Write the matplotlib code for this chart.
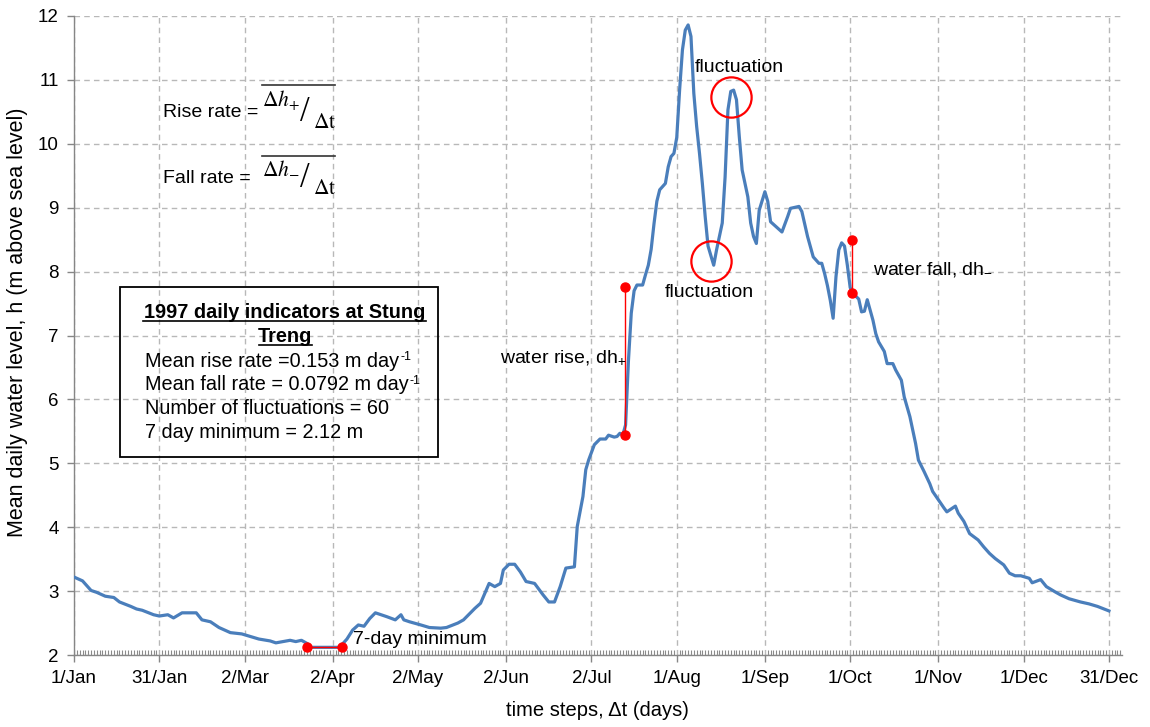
import matplotlib
matplotlib.use('Agg')
import matplotlib.pyplot as plt
from matplotlib.lines import Line2D
from matplotlib.patches import Rectangle

plt.rcParams['font.family'] = ['Liberation Sans', 'DejaVu Sans']

# ---------------- data (day of year, 0 = 1 Jan 1997) ----------------
day = [0, 3, 6, 8, 11, 14, 16, 20, 22, 24, 28, 30, 33, 35, 38, 43, 45, 48, 51, 55,
       59, 62, 65, 69, 71, 76, 78, 80, 82, 83, 93, 94, 96, 98, 100, 102, 104, 106,
       110, 113, 115, 116, 118, 122, 125, 129, 131, 135, 137, 139, 141, 143, 146,
       148, 150, 151, 153, 155, 157, 159, 162, 165, 167, 169, 171, 173, 176, 177,
       179, 180, 181, 183, 185, 187, 188, 190, 191, 192, 193, 194, 195, 196, 197,
       198, 200, 201, 202, 203, 204, 205, 206, 208, 209, 210, 211, 212, 213, 214,
       215, 216, 217, 218, 219, 220, 221, 222, 223, 225, 226, 228, 229, 230, 231,
       232, 233, 234, 235, 237, 238, 239, 240, 241, 243, 244, 245, 247, 249, 251,
       252, 255, 256, 258, 260, 262, 263, 264, 265, 266, 267, 268, 269, 270, 271,
       272, 273, 274, 276, 277, 278, 279, 281, 282, 283, 285, 286, 288, 289, 291,
       292, 294, 295, 296, 297, 299, 301, 302, 304, 306, 307, 308, 310, 311, 313,
       315, 318, 320, 322, 324, 327, 329, 331, 333, 336, 337, 340, 342, 345, 347,
       350, 354, 357, 360, 364]
level = [3.22, 3.16, 3.01, 2.98, 2.92, 2.90, 2.83, 2.76, 2.72, 2.70, 2.63, 2.61, 2.63,
         2.58, 2.66, 2.66, 2.55, 2.52, 2.43, 2.35, 2.33, 2.29, 2.25, 2.22, 2.19, 2.23,
         2.21, 2.23, 2.18, 2.12, 2.12, 2.15, 2.25, 2.39, 2.47, 2.45, 2.57, 2.66, 2.60,
         2.55, 2.63, 2.55, 2.52, 2.47, 2.43, 2.42, 2.43, 2.50, 2.55, 2.64, 2.73, 2.81,
         3.12, 3.07, 3.12, 3.33, 3.42, 3.42, 3.30, 3.15, 3.12, 2.94, 2.83, 2.83, 3.07,
         3.36, 3.38, 4.01, 4.48, 4.90, 5.05, 5.29, 5.38, 5.38, 5.44, 5.41, 5.42, 5.47,
         5.44, 5.60, 6.60, 7.35, 7.70, 7.79, 7.79, 7.95, 8.10, 8.35, 8.75, 9.10, 9.28,
         9.38, 9.64, 9.80, 9.85, 10.10, 10.84, 11.47, 11.78, 11.86, 11.68, 10.79, 10.27,
         9.85, 9.38, 8.86, 8.40, 8.10, 8.34, 8.76, 9.48, 10.53, 10.82, 10.84, 10.69,
         10.11, 9.59, 9.17, 8.76, 8.55, 8.44, 8.96, 9.25, 9.10, 8.78, 8.70, 8.62, 8.86,
         8.99, 9.02, 8.94, 8.55, 8.23, 8.13, 8.13, 7.97, 7.78, 7.55, 7.27, 7.92, 8.34,
         8.45, 8.40, 8.10, 7.75, 7.66, 7.57, 7.37, 7.38, 7.56, 7.24, 7.03, 6.90, 6.75,
         6.56, 6.56, 6.46, 6.30, 6.04, 5.73, 5.52, 5.31, 5.05, 4.87, 4.68, 4.56, 4.43,
         4.30, 4.24, 4.27, 4.33, 4.22, 4.09, 3.90, 3.80, 3.69, 3.59, 3.51, 3.41, 3.28,
         3.24, 3.24, 3.20, 3.13, 3.18, 3.07, 2.99, 2.94, 2.88, 2.83, 2.80, 2.76, 2.69]

tick_days = [0, 30, 60, 91, 121, 152, 182, 212, 243, 273, 304, 334, 364]
tick_labels = ['1/Jan', '31/Jan', '2/Mar', '2/Apr', '2/May', '2/Jun', '2/Jul',
               '1/Aug', '1/Sep', '1/Oct', '1/Nov', '1/Dec', '31/Dec']
y_ticks = [2, 3, 4, 5, 6, 7, 8, 9, 10, 11, 12]

rise_day, rise_levels = 193.8, [5.44, 7.76]
fall_day, fall_levels = 273.8, [8.49, 7.67]
min7_days, min7_level = [82.1, 94.2], 2.13
fluct_days, fluct_levels = [231.0, 223.9], [10.73, 8.17]

box_title = ['1997 daily indicators at Stung', 'Treng']
box_lines = [('Mean rise rate =0.153 m day', '-1'),
             ('Mean fall rate = 0.0792 m day', '-1'),
             ('Number of fluctuations = 60', ''),
             ('7 day minimum = 2.12 m', '')]

# ---------------- figure ----------------
W, H = 1150, 727
fig = plt.figure(figsize=(W / 100, H / 100), dpi=100)


def fx(px):
    return px / W


def fy(py):
    return 1 - py / H


ax = fig.add_axes([fx(74), fy(655), (1122 - 74) / W, (655 - 16) / H])
ax.set_xlim(0, 368.6)
ax.set_ylim(2, 12)

grid_kw = dict(color='#b8b8b8', linewidth=1.0, linestyle=(0, (4, 3)))
ax.set_axisbelow(True)
ax.grid(True, which='major', **grid_kw)

blue = '#4a7ebb'
red = '#ff0000'
ax.plot(day, level, color=blue, linewidth=2.3, solid_joinstyle='round', zorder=3)

# annotations
ax.plot([rise_day, rise_day], rise_levels, color=red, linewidth=1.0, zorder=4)
ax.plot([rise_day, rise_day], rise_levels, 'o', color=red, markersize=6.5, zorder=5)
ax.plot([fall_day, fall_day], fall_levels, color=red, linewidth=1.0, zorder=4)
ax.plot([fall_day, fall_day], fall_levels, 'o', color=red, markersize=6.5, zorder=5)
ax.plot(min7_days, [min7_level, min7_level], color=red, linewidth=1.0, zorder=4)
ax.plot(min7_days, [min7_level, min7_level], 'o', color=red, markersize=6.5, zorder=5)
ax.plot(fluct_days, fluct_levels, 'o', markersize=29, markerfacecolor='none',
        markeredgecolor=red, markeredgewidth=1.6, zorder=5)

# axes styling
for s in ['top', 'right']:
    ax.spines[s].set_visible(False)
for s in ['left', 'bottom']:
    ax.spines[s].set_color('#868686')
    ax.spines[s].set_linewidth(1.0)

ax.set_xticks(tick_days)
ax.set_xticklabels(tick_labels)
ax.set_xticks(list(range(0, 369)), minor=True)
ax.set_yticks(y_ticks)
ax.tick_params(axis='x', which='major', direction='out', length=5, width=1,
               color='#868686', labelsize=13.5, pad=6)
ax.tick_params(axis='x', which='minor', direction='in', length=3.5, width=0.8,
               color='#8a8a8a')
ax.tick_params(axis='y', which='major', direction='out', length=5, width=1,
               color='#868686', labelsize=13.5, pad=6)

fig.text(fx(597), fy(711), 'time steps, Δt (days)', fontsize=14.5, ha='center', va='center')
fig.text(fx(18), fy(322), 'Mean daily water level, h (m above sea level)', fontsize=15.5,
         ha='center', va='center', rotation=90)

# text annotations
fig.text(fx(695), fy(67), 'fluctuation', fontsize=14, ha='left', va='center')
fig.text(fx(665), fy(293), 'fluctuation', fontsize=14, ha='left', va='center')
fig.text(fx(500), fy(358), r'water rise, dh$_{\mathregular{+}}$', fontsize=14, ha='left', va='center')
fig.text(fx(873), fy(270), r'water fall, dh$_{\mathregular{-}}$', fontsize=14, ha='left', va='center')
fig.text(fx(353), fy(639), '7-day minimum', fontsize=14, ha='left', va='center')

# formulas
for (lab, sub, ybase, yover) in [('Rise rate =', '+', 117, 85), ('Fall rate =', '-', 183, 156)]:
    fig.text(fx(163), fy(ybase), lab, fontsize=14, ha='left', va='baseline')
    fig.text(fx(262), fy(ybase - 10), r'$\Delta h_{%s}$' % sub, fontsize=15.5,
             ha='left', va='baseline', math_fontfamily='stix')
    fig.text(fx(300), fy(ybase + 4), '/', fontsize=25, ha='left', va='baseline',
             family='Liberation Serif')
    fig.text(fx(313), fy(ybase + 11), r'$\Delta\mathrm{t}$', fontsize=15.5,
             ha='left', va='baseline', math_fontfamily='stix')
    fig.add_artist(Line2D([fx(262), fx(335)], [fy(yover), fy(yover)], color='#333333',
                          linewidth=1.2, transform=fig.transFigure))

# info box
fig.add_artist(Rectangle((fx(120), fy(457)), (438 - 120) / W, (457 - 287) / H,
                         transform=fig.transFigure, fill=False, edgecolor='black',
                         linewidth=1.3))
fig.text(fx(285), fy(313), box_title[0], fontsize=14.3, fontweight='bold', ha='center', va='center')
fig.text(fx(285), fy(336.5), box_title[1], fontsize=14.3, fontweight='bold', ha='center', va='center')
fig.add_artist(Line2D([fx(143), fx(426)], [fy(321), fy(321)], color='black', linewidth=1.2,
                      transform=fig.transFigure))
fig.add_artist(Line2D([fx(259), fx(312)], [fy(344.5), fy(344.5)], color='black', linewidth=1.2,
                      transform=fig.transFigure))
renderer = fig.canvas.get_renderer()
for i, (t, sup) in enumerate(box_lines):
    yb = 367 + i * 23.5
    txt = fig.text(fx(145), fy(yb), t, fontsize=14.3, ha='left', va='baseline')
    if sup:
        bb = txt.get_window_extent(renderer=renderer)
        fig.text(bb.x1 / W + fx(1), fy(yb - 7), sup, fontsize=9, ha='left', va='baseline')

fig.savefig('out.png', dpi=100)
